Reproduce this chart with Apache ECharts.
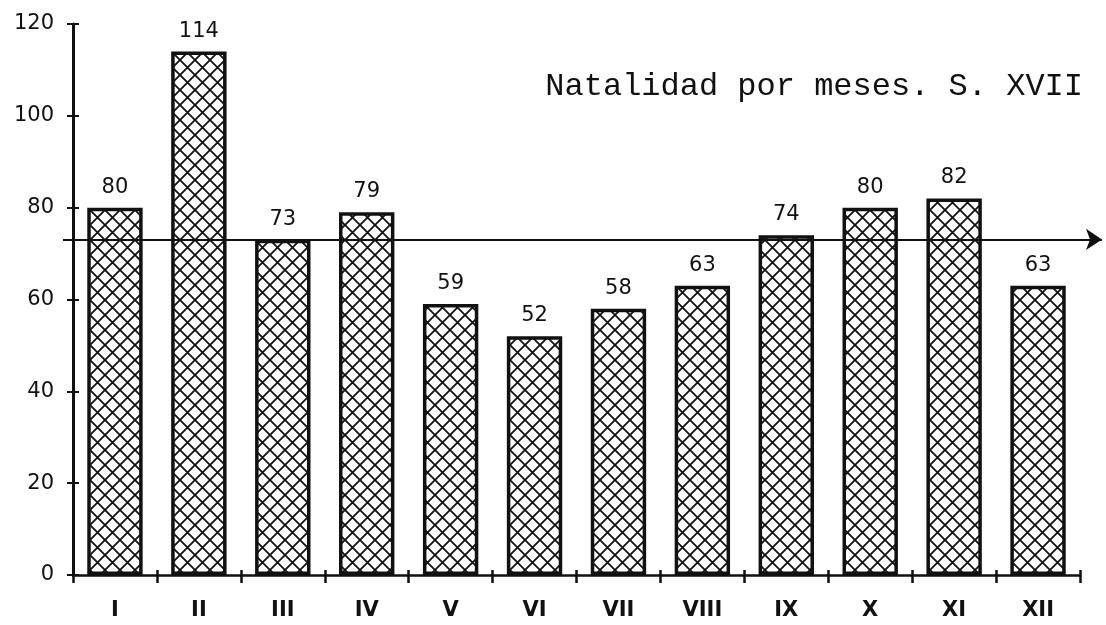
<!DOCTYPE html>
<html>
<head>
<meta charset="utf-8">
<title>Natalidad por meses. S. XVII</title>
<script src="https://cdn.jsdelivr.net/npm/echarts@6/dist/echarts.min.js"></script>
<style>
  html, body { margin: 0; padding: 0; background: #fff; }
  #chart { width: 1106px; height: 625px; }
</style>
</head>
<body>
<div id="chart"></div>
<script>
// Months in roman numerals and the number of births in each
const months = ['I', 'II', 'III', 'IV', 'V', 'VI', 'VII', 'VIII', 'IX', 'X', 'XI', 'XII'];
const births = [80, 114, 73, 79, 59, 52, 58, 63, 74, 80, 82, 63];
const yTicks = [0, 20, 40, 60, 80, 100, 120];
const titleText = 'Natalidad por meses. S. XVII';

// Monthly mean, drawn as the horizontal reference arrow
const meanBirths = births.reduce((a, b) => a + b, 0) / births.length;

// Cross-hatch fill for the bars
function hatchPattern() {
  const s = 15;
  const c = document.createElement('canvas');
  c.width = s; c.height = s;
  const g = c.getContext('2d');
  g.fillStyle = '#fff';
  g.fillRect(0, 0, s, s);
  g.strokeStyle = '#111';
  g.lineWidth = 1.8;
  g.beginPath();
  g.moveTo(0, 0); g.lineTo(s, s);
  g.moveTo(s, 0); g.lineTo(0, s);
  g.stroke();
  return c;
}

const font = '"DejaVu Sans", sans-serif';
const ink = '#111';
const yMin = yTicks[0], yMax = yTicks[yTicks.length - 1];
const yStep = yTicks[1] - yTicks[0];

const chart = echarts.init(document.getElementById('chart'), null, { renderer: 'canvas' });
chart.setOption({
  animation: false,
  backgroundColor: '#fff',
  title: {
    text: titleText,
    right: 18,
    top: 66,
    textStyle: { fontFamily: '"Courier New", "Liberation Mono", monospace', fontSize: 32, fontWeight: 'normal', color: ink }
  },
  grid: [
    { left: 73, right: 26, top: 24, bottom: 50 },
    { left: 63, right: 4, top: 24, bottom: 50 }
  ],
  xAxis: [
    {
      type: 'category', gridIndex: 0, data: months,
      axisLine: { lineStyle: { color: ink, width: 2.5 } },
      axisTick: { show: true, length: 8, lineStyle: { color: ink, width: 2.5 } },
      axisLabel: { fontFamily: font, fontSize: 21, fontWeight: 'bold', color: ink, margin: 25 }
    },
    {
      type: 'category', gridIndex: 0, data: months, position: 'bottom',
      axisLine: { show: false },
      axisTick: { show: true, inside: true, length: 5, lineStyle: { color: ink, width: 2.5 } },
      axisLabel: { show: false }
    },
    { type: 'value', gridIndex: 1, min: 0, max: 1, show: false }
  ],
  yAxis: [
    {
      type: 'value', gridIndex: 0, min: yMin, max: yMax, interval: yStep,
      axisLine: { show: true, lineStyle: { color: ink, width: 3 } },
      axisTick: { show: true, length: 6, lineStyle: { color: ink, width: 2 } },
      axisLabel: { fontFamily: font, fontSize: 21, color: ink, margin: 19 },
      splitLine: { show: false }
    },
    {
      type: 'value', gridIndex: 0, min: yMin, max: yMax, interval: yStep, position: 'left',
      axisLine: { show: false },
      axisTick: { show: true, inside: true, length: 6, lineStyle: { color: ink, width: 2 } },
      axisLabel: { show: false },
      splitLine: { show: false }
    },
    { type: 'value', gridIndex: 1, min: yMin, max: yMax, show: false }
  ],
  series: [
    {
      type: 'bar',
      xAxisIndex: 0, yAxisIndex: 0,
      data: births,
      barCategoryGap: '34%',
      itemStyle: {
        color: { image: hatchPattern(), repeat: 'repeat' },
        borderColor: ink,
        borderWidth: 3.5
      },
      label: {
        show: true, position: 'top', distance: 10,
        fontFamily: font, fontSize: 21, color: ink
      },
      emphasis: { disabled: true }
    },
    {
      type: 'line',
      xAxisIndex: 2, yAxisIndex: 2,
      data: [],
      silent: true,
      markLine: {
        silent: true,
        symbol: ['none', 'arrow'],
        symbolSize: [16, 16],
        label: { show: false },
        lineStyle: { color: ink, width: 2, type: 'solid' },
        emphasis: { disabled: true },
        data: [[{ coord: [0, meanBirths] }, { coord: [1, meanBirths] }]]
      },
      z: 5
    }
  ]
});
</script>
</body>
</html>
